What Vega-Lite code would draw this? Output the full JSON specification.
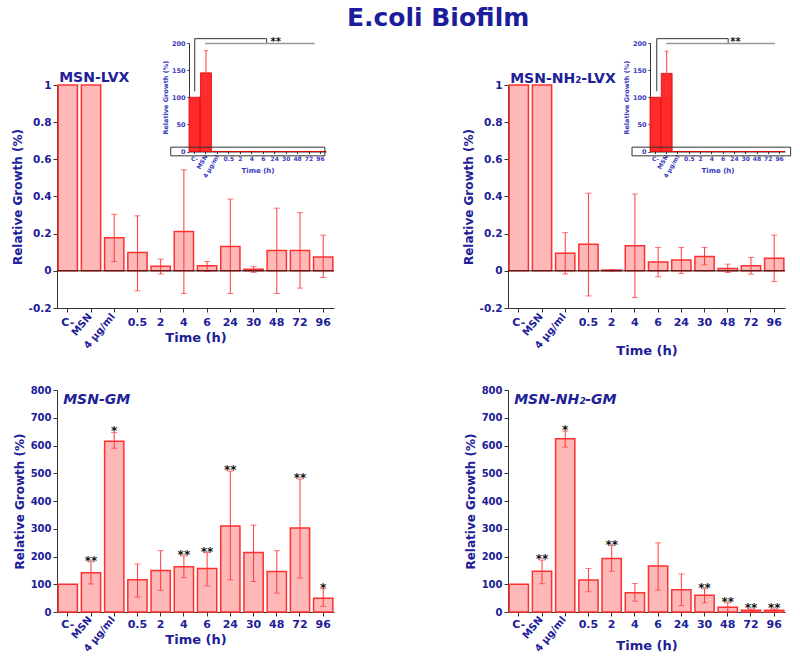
{
  "$schema": "https://vega.github.io/schema/vega-lite/v6.json",
  "padding": {"left": 11, "top": 5, "right": 3, "bottom": 5},
  "background": "white",
  "title": {"text": "E.coli Biofilm", "fontSize": 25, "font": "DejaVu Sans", "fontWeight": "bold", "color": "#1c1c9c", "anchor": "middle", "dx": 37, "offset": 6},
  "datasets": {
    "lvx": [
      {"cat": "C-", "val": 100},
      {"cat": "MSN", "val": 145, "lo": 104, "hi": 186},
      {"cat": "4 µg/ml", "val": 0.178, "lo": 0.05, "hi": 0.304},
      {"cat": "0.5", "val": 0.098, "lo": -0.108, "hi": 0.296},
      {"cat": "2", "val": 0.025, "lo": -0.017, "hi": 0.063},
      {"cat": "4", "val": 0.211, "lo": -0.122, "hi": 0.543},
      {"cat": "6", "val": 0.027, "lo": -0.003, "hi": 0.05},
      {"cat": "24", "val": 0.131, "lo": -0.122, "hi": 0.386},
      {"cat": "30", "val": 0.009, "lo": -0.008, "hi": 0.023},
      {"cat": "48", "val": 0.11, "lo": -0.122, "hi": 0.337},
      {"cat": "72", "val": 0.11, "lo": -0.093, "hi": 0.313},
      {"cat": "96", "val": 0.075, "lo": -0.036, "hi": 0.192}
    ],
    "nh2lvx": [
      {"cat": "C-", "val": 100},
      {"cat": "MSN", "val": 144, "lo": 103, "hi": 185},
      {"cat": "4 µg/ml", "val": 0.095, "lo": -0.017, "hi": 0.206},
      {"cat": "0.5", "val": 0.143, "lo": -0.135, "hi": 0.418},
      {"cat": "2", "val": 0.004, "lo": 0.0, "hi": 0.007},
      {"cat": "4", "val": 0.135, "lo": -0.144, "hi": 0.413},
      {"cat": "6", "val": 0.048, "lo": -0.032, "hi": 0.126},
      {"cat": "24", "val": 0.058, "lo": -0.014, "hi": 0.126},
      {"cat": "30", "val": 0.077, "lo": 0.032, "hi": 0.126},
      {"cat": "48", "val": 0.012, "lo": -0.009, "hi": 0.036},
      {"cat": "72", "val": 0.027, "lo": -0.018, "hi": 0.072},
      {"cat": "96", "val": 0.068, "lo": -0.058, "hi": 0.192}
    ],
    "gm": [
      {"cat": "C-", "val": 100},
      {"cat": "MSN", "val": 141, "lo": 101, "hi": 181, "sig": "**"},
      {"cat": "4 µg/ml", "val": 615, "lo": 590, "hi": 647, "sig": "*"},
      {"cat": "0.5", "val": 116, "lo": 54, "hi": 173},
      {"cat": "2", "val": 150, "lo": 78, "hi": 221},
      {"cat": "4", "val": 163, "lo": 124, "hi": 202, "sig": "**"},
      {"cat": "6", "val": 157, "lo": 94, "hi": 214, "sig": "**"},
      {"cat": "24", "val": 310, "lo": 116, "hi": 508, "sig": "**"},
      {"cat": "30", "val": 214, "lo": 110, "hi": 313},
      {"cat": "48", "val": 146, "lo": 68, "hi": 221},
      {"cat": "72", "val": 303, "lo": 122, "hi": 479, "sig": "**"},
      {"cat": "96", "val": 50, "lo": 20, "hi": 84, "sig": "*"}
    ],
    "nh2gm": [
      {"cat": "C-", "val": 100},
      {"cat": "MSN", "val": 147, "lo": 102, "hi": 187, "sig": "**"},
      {"cat": "4 µg/ml", "val": 624, "lo": 594, "hi": 652, "sig": "*"},
      {"cat": "0.5", "val": 115, "lo": 73, "hi": 157},
      {"cat": "2", "val": 193, "lo": 147, "hi": 239, "sig": "**"},
      {"cat": "4", "val": 69, "lo": 39, "hi": 103},
      {"cat": "6", "val": 166, "lo": 79, "hi": 249},
      {"cat": "24", "val": 80, "lo": 23, "hi": 137},
      {"cat": "30", "val": 60, "lo": 33, "hi": 84, "sig": "**"},
      {"cat": "48", "val": 17, "lo": 0, "hi": 33, "sig": "**"},
      {"cat": "72", "val": 6, "lo": 1, "hi": 11, "sig": "**"},
      {"cat": "96", "val": 6, "lo": 1, "hi": 11, "sig": "**"}
    ]
  },
  "columns": 2,
  "spacing": {"row": 82, "column": 174},
  "bounds": "flush",
  "concat": [
    {
      "width": 277, "height": 271,
      "data": {"name": "lvx"},
      "resolve": {"scale": {"x": "independent", "y": "independent"}},
      "layer": [
        {
          "layer": [
            {
              "mark": {"type": "bar", "fill": "#ffb8b8", "stroke": "#ff3030", "strokeWidth": 1.5},
              "encoding": {
                "x": {"field": "cat", "type": "nominal", "title": "Time (h)", "scale": {"domain": ["C-", "MSN", "4 µg/ml", "0.5", "2", "4", "6", "24", "30", "48", "72", "96"], "paddingInner": 0.17, "paddingOuter": 0.05},
                  "axis": {"orient": "bottom", "titleFontSize": 13, "titleY": 29, "titleBaseline": "middle", "labelFontSize": 11, "labelAngle": 0, "labelOverlap": false, "labelPadding": 4, "tickSize": 4, "labelBaseline": "top",
                    "labelExpr": "(datum.value === 'MSN' || datum.value === '4 µg/ml') ? '' : datum.label"}},
                "y": {"field": "val", "type": "quantitative", "title": "Relative Growth (%)", "scale": {"domain": [-0.2, 1], "range": [271, 48], "clamp": true, "nice": false, "zero": false},
                  "axis": {"orient": "left", "titleFontSize": 12, "labelFontSize": 10.5, "values": [-0.2, 0, 0.2, 0.4, 0.6, 0.8, 1], "labelOverlap": false, "tickSize": 4, "labelExpr": "datum.value < 0 ? '-' + format(-datum.value, '~g') : format(datum.value, '~g')"}}
              }
            },
            {
              "transform": [{"filter": "isValid(datum.hi) && datum.hi <= 1"}],
              "mark": {"type": "errorbar", "ticks": true, "color": "#ff3838", "thickness": 1, "size": 6},
              "encoding": {
                "x": {"field": "cat", "type": "nominal", "title": "Time (h)"},
                "y": {"field": "lo", "type": "quantitative", "title": "Relative Growth (%)"},
                "y2": {"field": "hi"}
              }
            },
            {
              "data": {"values": [{}]},
              "mark": {"type": "rule", "color": "#111", "strokeWidth": 1},
              "encoding": {"y": {"datum": 0}}
            },
            {
              "transform": [{"filter": "datum.cat === 'MSN' || datum.cat === '4 µg/ml'"}],
              "mark": {"type": "text", "angle": 310, "align": "right", "baseline": "middle", "yOffset": 7, "xOffset": -1, "fontSize": 10, "fontWeight": "bold", "color": "#202098"},
              "encoding": {"x": {"field": "cat", "type": "nominal", "title": "Time (h)"}, "y": {"datum": -0.2}, "text": {"field": "cat"}}
            },
            {
              "data": {"values": [{}]},
              "mark": {"type": "text", "text": "MSN-LVX", "align": "left", "baseline": "alphabetic", "dy": -3, "dx": 1, "fontSize": 14, "fontWeight": "bold", "color": "#202098"},
              "encoding": {"x": {"datum": "C-", "bandPosition": 0}, "y": {"datum": 1}}
            }
          ]
        },
        {
          "resolve": {"scale": {"x": "independent"}},
          "layer": [
            {
              "layer": [
                {
                  "mark": {"type": "bar", "fill": "#ff2b2b", "stroke": "#dd0000", "strokeWidth": 0.8},
                  "encoding": {
                    "x": {"field": "cat", "type": "nominal", "title": "Time (h)", "scale": {"domain": ["C-", "MSN", "4 µg/ml", "0.5", "2", "4", "6", "24", "30", "48", "72", "96"], "range": [132, 269], "paddingInner": 0.04, "paddingOuter": 0},
                      "axis": {"orient": "bottom", "titleFontSize": 7, "titleY": 19, "titleBaseline": "middle", "labelFontSize": 6, "labelAngle": 0, "labelOverlap": false, "labelPadding": 2, "tickSize": 2, "offset": -156.5, "labelColor": "#3a3ac0", "titleColor": "#3a3ac0", "labelBaseline": "top",
                        "labelExpr": "(datum.value === 'MSN' || datum.value === '4 µg/ml') ? '' : datum.label"}},
                    "y": {"field": "val", "type": "quantitative", "title": "Relative Growth (%)", "scale": {"domain": [0, 200], "range": [114.5, 6], "nice": false},
                      "axis": {"orient": "left", "titleFontSize": 6.5, "labelFontSize": 6.5, "values": [0, 50, 100, 150, 200], "labelOverlap": false, "offset": -132, "tickSize": 2, "labelPadding": 2, "titlePadding": 3, "labelColor": "#3a3ac0", "titleColor": "#3a3ac0"}}
                  }
                },
                {
                  "transform": [{"filter": "isValid(datum.hi) && datum.hi > 1"}],
                  "mark": {"type": "errorbar", "ticks": true, "color": "#ff3838", "thickness": 1, "size": 4},
                  "encoding": {
                    "x": {"field": "cat", "type": "nominal", "title": "Time (h)"},
                    "y": {"field": "lo", "type": "quantitative", "title": "Relative Growth (%)"},
                    "y2": {"field": "hi"}
                  }
                },
                {
                  "transform": [{"filter": "datum.cat === 'MSN' || datum.cat === '4 µg/ml'"}],
                  "mark": {"type": "text", "angle": 300, "align": "right", "baseline": "middle", "yOffset": 4, "fontSize": 6, "fontWeight": "bold", "color": "#3a3ac0"},
                  "encoding": {"x": {"field": "cat", "type": "nominal", "title": "Time (h)"}, "y": {"datum": 0}, "text": {"field": "cat"}}
                }
              ]
            },
            {
              "data": {"values": [{}]},
              "layer": [
                {
                  "mark": {"type": "rect", "fill": null, "fillOpacity": 0, "stroke": "#333", "strokeWidth": 1},
                  "encoding": {"x": {"datum": -1.6, "type": "quantitative", "scale": {"domain": [0, 12], "range": [132, 269]}, "axis": null}, "x2": {"datum": 11.9}, "y": {"datum": -8}, "y2": {"datum": 8}}
                },
                {
                  "mark": {"type": "rule", "color": "#333", "strokeWidth": 1},
                  "encoding": {"x": {"datum": 0.5, "type": "quantitative", "axis": null}, "y": {"datum": 111}, "y2": {"datum": 208}}
                },
                {
                  "mark": {"type": "rule", "color": "#333", "strokeWidth": 1},
                  "encoding": {"x": {"datum": 0.5, "type": "quantitative", "axis": null}, "x2": {"datum": 6.8}, "y": {"datum": 208}}
                },
                {
                  "mark": {"type": "rule", "color": "#333", "strokeWidth": 1},
                  "encoding": {"x": {"datum": 6.8, "type": "quantitative", "axis": null}, "y": {"datum": 208}, "y2": {"datum": 199}}
                },
                {
                  "mark": {"type": "rule", "color": "#999", "strokeWidth": 1.5},
                  "encoding": {"x": {"datum": 1.4, "type": "quantitative", "axis": null}, "x2": {"datum": 11}, "y": {"datum": 199}}
                },
                {
                  "mark": {"type": "text", "text": "**", "fontSize": 10, "fontWeight": "bold", "color": "#111", "baseline": "middle"},
                  "encoding": {"x": {"datum": 7.6, "type": "quantitative", "axis": null}, "y": {"datum": 202}}
                }
              ]
            }
          ]
        }
      ]
    },
    {
      "width": 277, "height": 271,
      "data": {"name": "nh2lvx"},
      "resolve": {"scale": {"x": "independent", "y": "independent"}},
      "layer": [
        {
          "layer": [
            {
              "mark": {"type": "bar", "fill": "#ffb8b8", "stroke": "#ff3030", "strokeWidth": 1.5},
              "encoding": {
                "x": {"field": "cat", "type": "nominal", "title": "Time (h)", "scale": {"domain": ["C-", "MSN", "4 µg/ml", "0.5", "2", "4", "6", "24", "30", "48", "72", "96"], "paddingInner": 0.17, "paddingOuter": 0.05},
                  "axis": {"orient": "bottom", "titleFontSize": 13, "titleY": 42, "titleBaseline": "middle", "labelFontSize": 11, "labelAngle": 0, "labelOverlap": false, "labelPadding": 4, "tickSize": 4, "labelBaseline": "top",
                    "labelExpr": "(datum.value === 'MSN' || datum.value === '4 µg/ml') ? '' : datum.label"}},
                "y": {"field": "val", "type": "quantitative", "title": "Relative Growth (%)", "scale": {"domain": [-0.2, 1], "range": [271, 48], "clamp": true, "nice": false, "zero": false},
                  "axis": {"orient": "left", "titleFontSize": 12, "labelFontSize": 10.5, "values": [-0.2, 0, 0.2, 0.4, 0.6, 0.8, 1], "labelOverlap": false, "tickSize": 4, "labelExpr": "datum.value < 0 ? '-' + format(-datum.value, '~g') : format(datum.value, '~g')"}}
              }
            },
            {
              "transform": [{"filter": "isValid(datum.hi) && datum.hi <= 1"}],
              "mark": {"type": "errorbar", "ticks": true, "color": "#ff3838", "thickness": 1, "size": 6},
              "encoding": {
                "x": {"field": "cat", "type": "nominal", "title": "Time (h)"},
                "y": {"field": "lo", "type": "quantitative", "title": "Relative Growth (%)"},
                "y2": {"field": "hi"}
              }
            },
            {
              "data": {"values": [{}]},
              "mark": {"type": "rule", "color": "#111", "strokeWidth": 1},
              "encoding": {"y": {"datum": 0}}
            },
            {
              "transform": [{"filter": "datum.cat === 'MSN' || datum.cat === '4 µg/ml'"}],
              "mark": {"type": "text", "angle": 310, "align": "right", "baseline": "middle", "yOffset": 7, "xOffset": -1, "fontSize": 10, "fontWeight": "bold", "color": "#202098"},
              "encoding": {"x": {"field": "cat", "type": "nominal", "title": "Time (h)"}, "y": {"datum": -0.2}, "text": {"field": "cat"}}
            },
            {
              "data": {"values": [{}]},
              "mark": {"type": "text", "text": "MSN-NH₂-LVX", "align": "left", "baseline": "alphabetic", "dy": -2, "dx": 1, "fontSize": 14, "fontWeight": "bold", "color": "#202098"},
              "encoding": {"x": {"datum": "C-", "bandPosition": 0}, "y": {"datum": 1}}
            }
          ]
        },
        {
          "resolve": {"scale": {"x": "independent"}},
          "layer": [
            {
              "layer": [
                {
                  "mark": {"type": "bar", "fill": "#ff2b2b", "stroke": "#dd0000", "strokeWidth": 0.8},
                  "encoding": {
                    "x": {"field": "cat", "type": "nominal", "title": "Time (h)", "scale": {"domain": ["C-", "MSN", "4 µg/ml", "0.5", "2", "4", "6", "24", "30", "48", "72", "96"], "range": [142, 277], "paddingInner": 0.04, "paddingOuter": 0},
                      "axis": {"orient": "bottom", "titleFontSize": 7, "titleY": 19, "titleBaseline": "middle", "labelFontSize": 6, "labelAngle": 0, "labelOverlap": false, "labelPadding": 2, "tickSize": 2, "offset": -156.5, "labelColor": "#3a3ac0", "titleColor": "#3a3ac0", "labelBaseline": "top",
                        "labelExpr": "(datum.value === 'MSN' || datum.value === '4 µg/ml') ? '' : datum.label"}},
                    "y": {"field": "val", "type": "quantitative", "title": "Relative Growth (%)", "scale": {"domain": [0, 200], "range": [114.5, 6], "nice": false},
                      "axis": {"orient": "left", "titleFontSize": 6.5, "labelFontSize": 6.5, "values": [0, 50, 100, 150, 200], "labelOverlap": false, "offset": -142, "tickSize": 2, "labelPadding": 2, "titlePadding": 3, "labelColor": "#3a3ac0", "titleColor": "#3a3ac0"}}
                  }
                },
                {
                  "transform": [{"filter": "isValid(datum.hi) && datum.hi > 1"}],
                  "mark": {"type": "errorbar", "ticks": true, "color": "#ff3838", "thickness": 1, "size": 4},
                  "encoding": {
                    "x": {"field": "cat", "type": "nominal", "title": "Time (h)"},
                    "y": {"field": "lo", "type": "quantitative", "title": "Relative Growth (%)"},
                    "y2": {"field": "hi"}
                  }
                },
                {
                  "transform": [{"filter": "datum.cat === 'MSN' || datum.cat === '4 µg/ml'"}],
                  "mark": {"type": "text", "angle": 300, "align": "right", "baseline": "middle", "yOffset": 4, "fontSize": 6, "fontWeight": "bold", "color": "#3a3ac0"},
                  "encoding": {"x": {"field": "cat", "type": "nominal", "title": "Time (h)"}, "y": {"datum": 0}, "text": {"field": "cat"}}
                }
              ]
            },
            {
              "data": {"values": [{}]},
              "layer": [
                {
                  "mark": {"type": "rect", "fill": null, "fillOpacity": 0, "stroke": "#333", "strokeWidth": 1},
                  "encoding": {"x": {"datum": -1.6, "type": "quantitative", "scale": {"domain": [0, 12], "range": [142, 277]}, "axis": null}, "x2": {"datum": 12.5}, "y": {"datum": -8}, "y2": {"datum": 8}}
                },
                {
                  "mark": {"type": "rule", "color": "#333", "strokeWidth": 1},
                  "encoding": {"x": {"datum": 0.6, "type": "quantitative", "axis": null}, "y": {"datum": 111}, "y2": {"datum": 208}}
                },
                {
                  "mark": {"type": "rule", "color": "#333", "strokeWidth": 1},
                  "encoding": {"x": {"datum": 0.6, "type": "quantitative", "axis": null}, "x2": {"datum": 6.95}, "y": {"datum": 208}}
                },
                {
                  "mark": {"type": "rule", "color": "#333", "strokeWidth": 1},
                  "encoding": {"x": {"datum": 6.95, "type": "quantitative", "axis": null}, "y": {"datum": 208}, "y2": {"datum": 199}}
                },
                {
                  "mark": {"type": "rule", "color": "#999", "strokeWidth": 1.5},
                  "encoding": {"x": {"datum": 1.45, "type": "quantitative", "axis": null}, "x2": {"datum": 11.1}, "y": {"datum": 199}}
                },
                {
                  "mark": {"type": "text", "text": "**", "fontSize": 10, "fontWeight": "bold", "color": "#111", "baseline": "middle"},
                  "encoding": {"x": {"datum": 7.6, "type": "quantitative", "axis": null}, "y": {"datum": 202}}
                }
              ]
            }
          ]
        }
      ]
    },
    {
      "width": 277, "height": 222,
      "data": {"name": "gm"},
      "layer": [
        {
          "mark": {"type": "bar", "fill": "#ffb8b8", "stroke": "#ff3030", "strokeWidth": 1.5},
          "encoding": {
            "x": {"field": "cat", "type": "nominal", "title": "Time (h)", "scale": {"domain": ["C-", "MSN", "4 µg/ml", "0.5", "2", "4", "6", "24", "30", "48", "72", "96"], "paddingInner": 0.17, "paddingOuter": 0.05},
              "axis": {"orient": "bottom", "titleFontSize": 13, "titleY": 27, "titleBaseline": "middle", "labelFontSize": 11, "labelAngle": 0, "labelOverlap": false, "labelPadding": 2, "tickSize": 4, "labelBaseline": "top",
                "labelExpr": "(datum.value === 'MSN' || datum.value === '4 µg/ml') ? '' : datum.label"}},
            "y": {"field": "val", "type": "quantitative", "title": "Relative Growth (%)", "scale": {"domain": [0, 800], "nice": false},
              "axis": {"orient": "left", "titleFontSize": 12, "labelFontSize": 10, "values": [0, 100, 200, 300, 400, 500, 600, 700, 800], "tickCount": 9, "labelOverlap": false, "tickSize": 4}}
          }
        },
        {
          "transform": [{"filter": "isValid(datum.hi)"}],
          "mark": {"type": "errorbar", "ticks": true, "color": "#ff3838", "thickness": 1, "size": 6},
          "encoding": {
            "x": {"field": "cat", "type": "nominal", "title": "Time (h)"},
            "y": {"field": "lo", "type": "quantitative", "title": "Relative Growth (%)", "axis": {"orient": "left", "titleFontSize": 12, "labelFontSize": 10, "values": [0, 100, 200, 300, 400, 500, 600, 700, 800], "tickCount": 9, "labelOverlap": false, "tickSize": 4}},
            "y2": {"field": "hi"}
          }
        },
        {
          "transform": [{"filter": "isValid(datum.sig)"}],
          "mark": {"type": "text", "fontSize": 12, "fontWeight": "bold", "color": "#111", "baseline": "alphabetic", "dy": 3},
          "encoding": {
            "x": {"field": "cat", "type": "nominal", "title": "Time (h)"},
            "y": {"field": "hi", "type": "quantitative", "title": "Relative Growth (%)", "axis": {"orient": "left", "titleFontSize": 12, "labelFontSize": 10, "values": [0, 100, 200, 300, 400, 500, 600, 700, 800], "tickCount": 9, "labelOverlap": false, "tickSize": 4}},
            "text": {"field": "sig"}
          }
        },
        {
          "transform": [{"filter": "datum.cat === 'MSN' || datum.cat === '4 µg/ml'"}],
          "mark": {"type": "text", "angle": 310, "align": "right", "baseline": "middle", "yOffset": 6, "xOffset": -1, "fontSize": 10, "fontWeight": "bold", "color": "#202098"},
          "encoding": {"x": {"field": "cat", "type": "nominal", "title": "Time (h)"}, "y": {"datum": 0, "axis": {"orient": "left", "titleFontSize": 12, "labelFontSize": 10, "values": [0, 100, 200, 300, 400, 500, 600, 700, 800], "tickCount": 9, "labelOverlap": false, "tickSize": 4}}, "text": {"field": "cat"}}
        },
        {
          "data": {"values": [{}]},
          "mark": {"type": "text", "text": "MSN-GM", "align": "left", "baseline": "top", "dy": 3, "dx": 5, "fontSize": 14, "fontWeight": "bold", "fontStyle": "italic", "color": "#202098"},
          "encoding": {"x": {"datum": "C-", "bandPosition": 0}, "y": {"datum": 800, "axis": {"orient": "left", "titleFontSize": 12, "labelFontSize": 10, "values": [0, 100, 200, 300, 400, 500, 600, 700, 800], "tickCount": 9, "labelOverlap": false, "tickSize": 4}}}
        }
      ]
    },
    {
      "width": 277, "height": 222,
      "data": {"name": "nh2gm"},
      "layer": [
        {
          "mark": {"type": "bar", "fill": "#ffb8b8", "stroke": "#ff3030", "strokeWidth": 1.5},
          "encoding": {
            "x": {"field": "cat", "type": "nominal", "title": "Time (h)", "scale": {"domain": ["C-", "MSN", "4 µg/ml", "0.5", "2", "4", "6", "24", "30", "48", "72", "96"], "paddingInner": 0.17, "paddingOuter": 0.05},
              "axis": {"orient": "bottom", "titleFontSize": 13, "titleY": 33, "titleBaseline": "middle", "labelFontSize": 11, "labelAngle": 0, "labelOverlap": false, "labelPadding": 2, "tickSize": 4, "labelBaseline": "top",
                "labelExpr": "(datum.value === 'MSN' || datum.value === '4 µg/ml') ? '' : datum.label"}},
            "y": {"field": "val", "type": "quantitative", "title": "Relative Growth (%)", "scale": {"domain": [0, 800], "nice": false},
              "axis": {"orient": "left", "titleFontSize": 12, "labelFontSize": 10, "values": [0, 100, 200, 300, 400, 500, 600, 700, 800], "tickCount": 9, "labelOverlap": false, "tickSize": 4}}
          }
        },
        {
          "transform": [{"filter": "isValid(datum.hi)"}],
          "mark": {"type": "errorbar", "ticks": true, "color": "#ff3838", "thickness": 1, "size": 6},
          "encoding": {
            "x": {"field": "cat", "type": "nominal", "title": "Time (h)"},
            "y": {"field": "lo", "type": "quantitative", "title": "Relative Growth (%)", "axis": {"orient": "left", "titleFontSize": 12, "labelFontSize": 10, "values": [0, 100, 200, 300, 400, 500, 600, 700, 800], "tickCount": 9, "labelOverlap": false, "tickSize": 4}},
            "y2": {"field": "hi"}
          }
        },
        {
          "transform": [{"filter": "isValid(datum.sig)"}],
          "mark": {"type": "text", "fontSize": 12, "fontWeight": "bold", "color": "#111", "baseline": "alphabetic", "dy": 3},
          "encoding": {
            "x": {"field": "cat", "type": "nominal", "title": "Time (h)"},
            "y": {"field": "hi", "type": "quantitative", "title": "Relative Growth (%)", "axis": {"orient": "left", "titleFontSize": 12, "labelFontSize": 10, "values": [0, 100, 200, 300, 400, 500, 600, 700, 800], "tickCount": 9, "labelOverlap": false, "tickSize": 4}},
            "text": {"field": "sig"}
          }
        },
        {
          "transform": [{"filter": "datum.cat === 'MSN' || datum.cat === '4 µg/ml'"}],
          "mark": {"type": "text", "angle": 310, "align": "right", "baseline": "middle", "yOffset": 6, "xOffset": -1, "fontSize": 10, "fontWeight": "bold", "color": "#202098"},
          "encoding": {"x": {"field": "cat", "type": "nominal", "title": "Time (h)"}, "y": {"datum": 0, "axis": {"orient": "left", "titleFontSize": 12, "labelFontSize": 10, "values": [0, 100, 200, 300, 400, 500, 600, 700, 800], "tickCount": 9, "labelOverlap": false, "tickSize": 4}}, "text": {"field": "cat"}}
        },
        {
          "data": {"values": [{}]},
          "mark": {"type": "text", "text": "MSN-NH₂-GM", "align": "left", "baseline": "top", "dy": 3, "dx": 5, "fontSize": 14, "fontWeight": "bold", "fontStyle": "italic", "color": "#202098"},
          "encoding": {"x": {"datum": "C-", "bandPosition": 0}, "y": {"datum": 800, "axis": {"orient": "left", "titleFontSize": 12, "labelFontSize": 10, "values": [0, 100, 200, 300, 400, 500, 600, 700, 800], "tickCount": 9, "labelOverlap": false, "tickSize": 4}}}
        }
      ]
    }
  ],
  "config": {
    "view": {"stroke": null},
    "axis": {"labelFont": "DejaVu Sans", "labelFontWeight": "bold", "labelColor": "#202098", "titleFont": "DejaVu Sans", "titleFontWeight": "bold", "titleColor": "#202098", "domainColor": "#333", "tickColor": "#333", "grid": false},
    "text": {"font": "DejaVu Sans"}
  }
}
